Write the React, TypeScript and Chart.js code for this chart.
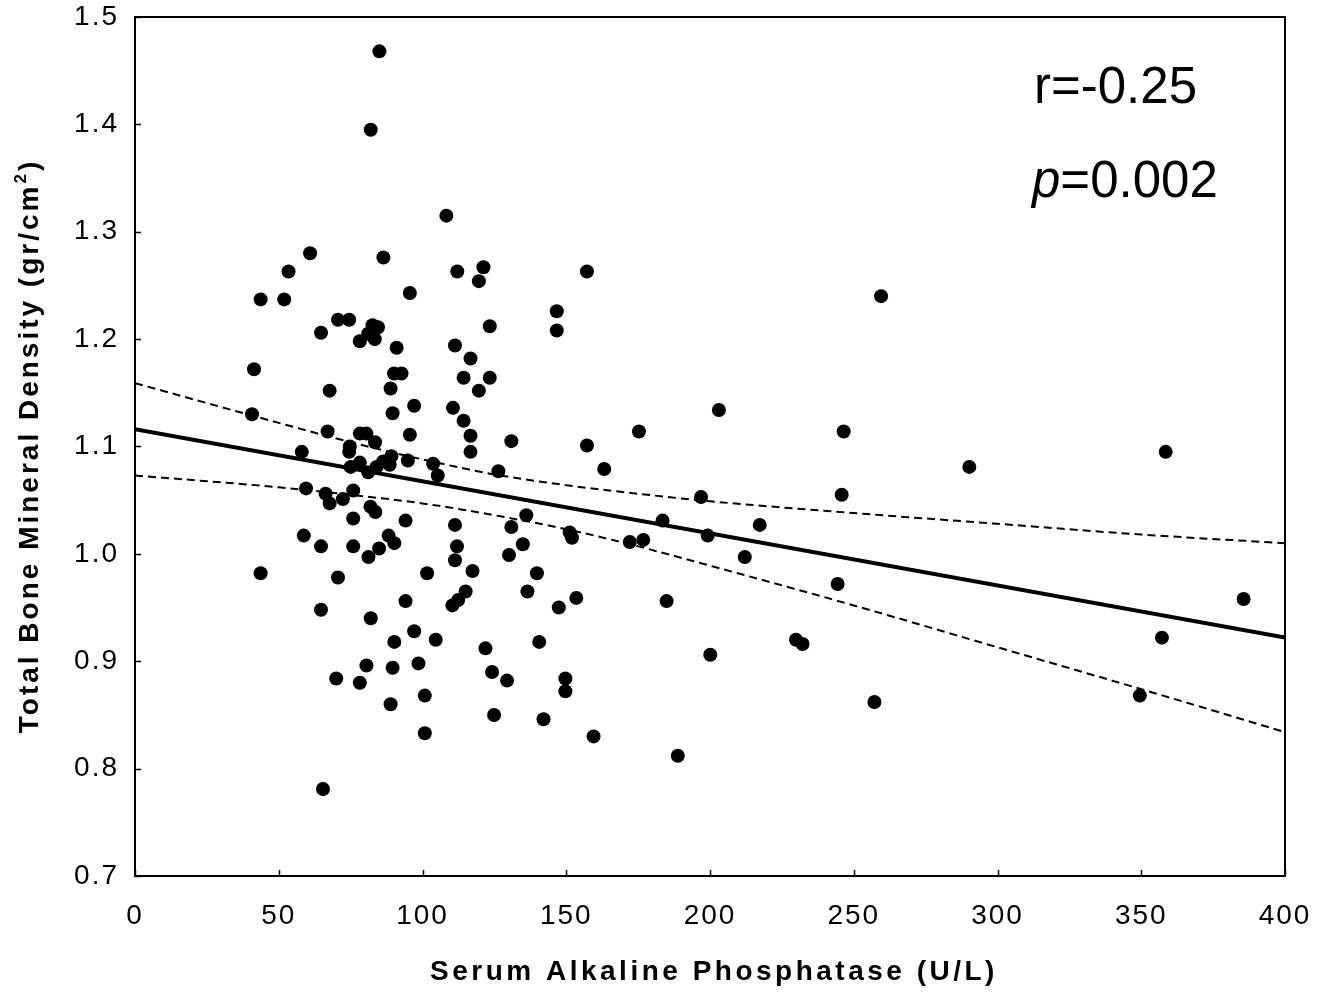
import React, { useEffect, useRef } from "react";
import { Chart, registerables } from "chart.js";

Chart.register(...registerables);

// Serum alkaline phosphatase (U/L)
const alkPhos: number[] = [
  85.0, 82.0, 108.3, 60.9, 86.4, 53.4, 112.1, 121.2, 119.6, 157.2,
  95.6, 43.7, 51.9, 259.5, 146.7, 70.6, 74.5, 64.7, 82.6, 84.5,
  81.1, 78.2, 83.4, 123.4, 146.7, 91.0, 111.3, 116.7, 41.4, 90.1,
  92.7, 114.3, 123.4, 67.7, 88.9, 119.6, 97.1, 110.6, 40.7, 89.6,
  203.1, 114.3, 95.6, 116.7, 130.9, 67.0, 78.2, 80.5, 83.5, 74.7,
  74.5, 58.0, 116.7, 78.2, 75.0, 81.1, 84.0, 86.3, 89.2, 88.6,
  94.9, 103.7, 105.3, 126.4, 59.5, 66.3, 67.7, 72.3, 75.9, 81.9,
  83.6, 75.9, 94.1, 111.3, 136.1, 130.9, 58.7, 64.7, 75.9, 88.2,
  90.2, 84.9, 112.0, 134.9, 81.2, 111.3, 117.4, 130.1, 43.7, 70.6,
  101.6, 94.1, 115.0, 112.4, 110.4, 136.5, 64.7, 82.0, 97.1, 90.2,
  104.6, 121.9, 80.5, 89.6, 98.6, 124.2, 129.4, 70.0, 78.2, 88.9,
  100.8, 124.9, 100.8, 65.4, 175.3, 246.5, 157.2, 163.2, 196.9, 245.8,
  183.5, 217.3, 151.2, 152.0, 172.1, 176.8, 199.2, 212.1, 139.8, 244.4,
  153.5, 184.9, 147.4, 140.6, 149.7, 149.7, 142.1, 159.5, 188.8, 200.1,
  229.9, 232.2, 257.2, 290.2, 358.5, 385.6, 357.2, 349.5,
];

// Total bone mineral density (gr/cm2)
const bmd: number[] = [
  1.468, 1.395, 1.315, 1.280, 1.276, 1.263, 1.263, 1.267, 1.254, 1.263,
  1.243, 1.237, 1.237, 1.240, 1.226, 1.218, 1.218, 1.206, 1.213, 1.211,
  1.205, 1.198, 1.200, 1.212, 1.208, 1.192, 1.194, 1.182, 1.172, 1.168,
  1.168, 1.164, 1.164, 1.152, 1.154, 1.152, 1.138, 1.136, 1.130, 1.131,
  1.134, 1.124, 1.111, 1.110, 1.105, 1.114, 1.112, 1.112, 1.104, 1.100,
  1.095, 1.095, 1.095, 1.085, 1.081, 1.076, 1.081, 1.086, 1.091, 1.083,
  1.087, 1.084, 1.073, 1.077, 1.061, 1.056, 1.047, 1.051, 1.059, 1.044,
  1.039, 1.033, 1.031, 1.027, 1.036, 1.025, 1.017, 1.007, 1.007, 1.017,
  1.010, 1.005, 1.007, 1.009, 0.997, 0.994, 0.984, 0.999, 0.982, 0.978,
  0.982, 0.956, 0.965, 0.957, 0.952, 0.965, 0.948, 0.940, 0.928, 0.918,
  0.920, 0.912, 0.896, 0.894, 0.898, 0.890, 0.882, 0.884, 0.880, 0.860,
  0.868, 0.850, 0.833, 0.781, 1.114, 1.114, 1.101, 1.079, 1.053, 1.055,
  1.031, 1.027, 1.020, 1.015, 1.011, 1.013, 1.017, 0.997, 0.982, 0.972,
  0.959, 0.956, 0.950, 0.918, 0.884, 0.872, 0.846, 0.830, 0.812, 0.906,
  0.920, 0.916, 0.862, 1.081, 1.095, 0.958, 0.922, 0.868,
];

// Regression line (read at the ends of the axis)
const fitX: number[] = [0, 400];
const fitY: number[] = [1.116, 0.922];

// 95% confidence band
const bandX: number[] = [0, 50, 75, 100, 125, 150, 175, 200, 250, 300, 350, 400];
const bandUpper: number[] = [1.159, 1.122, 1.104, 1.088, 1.074, 1.064, 1.056, 1.049, 1.038, 1.028, 1.018, 1.010];
const bandLower: number[] = [1.073, 1.062, 1.055, 1.047, 1.036, 1.023, 1.007, 0.989, 0.952, 0.913, 0.874, 0.834];

const xTicks: number[] = [0, 50, 100, 150, 200, 250, 300, 350, 400];
const yTicks: number[] = [0.7, 0.8, 0.9, 1.0, 1.1, 1.2, 1.3, 1.4, 1.5];

const xTitle = "Serum Alkaline Phosphatase (U/L)";
const yTitleMain = "Total Bone Mineral Density (gr/cm";
const yTitleSup = "2";
const yTitleEnd = ")";
const rText = "r=-0.25";
const pLabel = "p";
const pText = "=0.002";

const FONT = "'Liberation Sans', Arial, Helvetica, sans-serif";

const framePlugin = {
  id: "framePlugin",
  beforeDraw(chart: any) {
    (chart.ctx as any).letterSpacing = "2px";
  },
  afterDraw(chart: any) {
    const ctx = chart.ctx as any;
    const { left, right, top, bottom } = chart.chartArea;
    const xs = chart.scales.x;
    const ys = chart.scales.y;
    ctx.save();
    ctx.letterSpacing = "0px";
    ctx.strokeStyle = "#000";
    ctx.lineWidth = 2;
    ctx.strokeRect(left, top, right - left, bottom - top);
    ctx.lineWidth = 1.5;
    ctx.beginPath();
    xTicks.forEach((v) => {
      const px = Math.round(xs.getPixelForValue(v)) + 0.5;
      ctx.moveTo(px, bottom);
      ctx.lineTo(px, bottom - 6);
    });
    yTicks.forEach((v) => {
      const py = Math.round(ys.getPixelForValue(v)) + 0.5;
      ctx.moveTo(left, py);
      ctx.lineTo(left + 6, py);
    });
    ctx.stroke();

    ctx.fillStyle = "#000";
    // x title
    ctx.font = `bold 28px ${FONT}`;
    ctx.letterSpacing = "3.5px";
    ctx.textAlign = "center";
    ctx.textBaseline = "alphabetic";
    ctx.fillText(xTitle, (left + right) / 2 + 4, 980);

    // y title (rotated, with superscript)
    ctx.save();
    ctx.translate(38, 446);
    ctx.rotate(-Math.PI / 2);
    ctx.textAlign = "left";
    const mainFont = `bold 28px ${FONT}`;
    const supFont = `bold 17px ${FONT}`;
    ctx.letterSpacing = "3px";
    ctx.font = mainFont;
    const w1 = ctx.measureText(yTitleMain).width;
    const w3 = ctx.measureText(yTitleEnd).width;
    ctx.font = supFont;
    const w2 = ctx.measureText(yTitleSup).width;
    const total = w1 + w2 + w3;
    let x0 = -total / 2;
    ctx.font = mainFont;
    ctx.fillText(yTitleMain, x0, 0);
    x0 += w1;
    ctx.font = supFont;
    ctx.fillText(yTitleSup, x0, -12);
    x0 += w2;
    ctx.font = mainFont;
    ctx.fillText(yTitleEnd, x0, 0);
    ctx.restore();

    // statistics annotation
    ctx.letterSpacing = "0px";
    ctx.textAlign = "left";
    ctx.font = `51px ${FONT}`;
    ctx.fillText(rText, 1034, 103);
    ctx.font = `italic 51px ${FONT}`;
    ctx.fillText(pLabel, 1032, 197);
    const pw = ctx.measureText(pLabel).width;
    ctx.font = `51px ${FONT}`;
    ctx.fillText(pText, 1032 + pw, 197);
    ctx.restore();
  },
};

export default function App() {
  const canvasRef = useRef<HTMLCanvasElement | null>(null);

  useEffect(() => {
    document.body.style.margin = "0";
    const canvas = canvasRef.current;
    if (!canvas) return;

    const points = alkPhos.map((x, i) => ({ x, y: bmd[i] }));
    const fit = fitX.map((x, i) => ({ x, y: fitY[i] }));
    const upper = bandX.map((x, i) => ({ x, y: bandUpper[i] }));
    const lower = bandX.map((x, i) => ({ x, y: bandLower[i] }));

    const chart = new Chart(canvas, {
      type: "scatter",
      data: {
        datasets: [
          {
            label: "Patients",
            data: points,
            backgroundColor: "#000",
            borderWidth: 0,
            pointRadius: 7,
            pointHoverRadius: 7,
          },
          {
            label: "Fit",
            data: fit,
            showLine: true,
            borderColor: "#000",
            borderWidth: 4,
            pointRadius: 0,
            fill: false,
          } as any,
          {
            label: "Upper 95% CI",
            data: upper,
            showLine: true,
            borderColor: "#000",
            borderWidth: 2,
            borderDash: [8, 5],
            pointRadius: 0,
            cubicInterpolationMode: "monotone",
            fill: false,
          } as any,
          {
            label: "Lower 95% CI",
            data: lower,
            showLine: true,
            borderColor: "#000",
            borderWidth: 2,
            borderDash: [8, 5],
            pointRadius: 0,
            cubicInterpolationMode: "monotone",
            fill: false,
          } as any,
        ],
      },
      options: {
        responsive: false,
        animation: false,
        events: [],
        layout: { padding: { left: 0, right: 50, top: 17, bottom: 0 } },
        plugins: {
          legend: { display: false },
          tooltip: { enabled: false },
          title: { display: false },
        },
        scales: {
          x: {
            type: "linear",
            min: 0,
            max: 400,
            afterFit: (scale: any) => {
              scale.height = 116;
              scale.paddingLeft = 0;
              scale.paddingRight = 0;
            },
            afterBuildTicks: (scale: any) => {
              scale.ticks = xTicks.map((v) => ({ value: v }));
            },
            grid: { display: false },
            border: { display: false },
            ticks: {
              color: "#000",
              font: { family: FONT, size: 28 },
              padding: 15,
              maxRotation: 0,
              autoSkip: false,
              callback: (v: any) => String(v),
            },
          },
          y: {
            type: "linear",
            min: 0.7,
            max: 1.5,
            afterFit: (scale: any) => {
              scale.width = 135;
              scale.paddingTop = 0;
              scale.paddingBottom = 0;
            },
            afterBuildTicks: (scale: any) => {
              scale.ticks = yTicks.map((v) => ({ value: v }));
            },
            grid: { display: false },
            border: { display: false },
            ticks: {
              color: "#000",
              font: { family: FONT, size: 28 },
              padding: 8,
              autoSkip: false,
              callback: (v: any) => Number(v).toFixed(1),
            },
          },
        },
      },
      plugins: [framePlugin],
    });

    return () => {
      chart.destroy();
    };
  }, []);

  return (
    <div style={{ width: 1335, height: 992, background: "#fff" }}>
      <canvas ref={canvasRef} width={1335} height={992} style={{ display: "block" }} />
    </div>
  );
}
